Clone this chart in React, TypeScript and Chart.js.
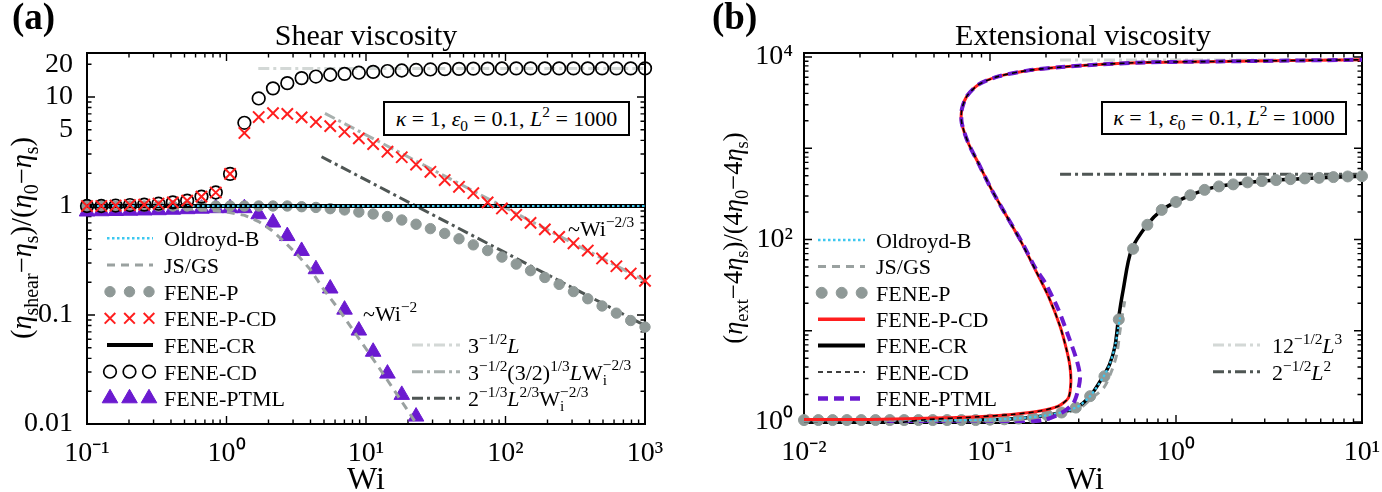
import { useEffect, useRef } from "react"
import Chart from "chart.js/auto"
import { drawPoint } from "chart.js/helpers"

const SERIF = '"Liberation Serif", "Times New Roman", serif'

// ---------- (a) shear viscosity ----------
const shearWi = [
  0.1, 0.1267, 0.1604, 0.2031, 0.2572, 0.3257, 0.4125, 0.5224, 0.6615, 0.8377, 1.0608, 1.3434, 1.7013, 2.1544,
  2.7283, 3.4551, 4.3755, 5.5411, 7.017, 8.8862, 11.253, 14.251, 18.047, 22.855, 28.943, 36.654, 46.416, 58.78,
  74.438, 94.267, 119.38, 151.18, 191.45, 242.45, 307.03, 388.82, 492.39, 623.54, 789.65, 1000,
]
const shearFeneCD = [
  1.0, 1.0, 1.01, 1.02, 1.03, 1.05, 1.08, 1.12, 1.22, 1.33, 1.97, 5.8, 9.7, 12.0, 13.4, 14.9, 15.4, 16.0, 16.3, 16.7,
  17.0, 17.3, 17.5, 17.7, 17.9, 18.0, 18.1, 18.2, 18.2, 18.25, 18.3, 18.3, 18.3, 18.3, 18.3, 18.3, 18.3, 18.3, 18.3, 18.3,
]
const shearFenePCD = [
  1.0, 1.0, 1.01, 1.02, 1.03, 1.05, 1.08, 1.12, 1.22, 1.33, 1.97, 4.68, 6.55, 7.1, 7.0, 6.5, 5.9, 5.4, 4.8, 4.17,
  3.7, 3.15, 2.8, 2.4, 2.06, 1.73, 1.5, 1.31, 1.08, 0.95, 0.83, 0.7, 0.61, 0.52, 0.455, 0.39, 0.33, 0.28, 0.24, 0.206,
]
const shearFeneP = [
  1.0, 1.0, 1.0, 1.0, 1.0, 1.0, 1.0, 1.0, 1.0, 1.0, 1.0, 1.0, 1.0, 1.0, 1.0, 0.985, 0.97, 0.945, 0.92, 0.88,
  0.845, 0.8, 0.744, 0.68, 0.62, 0.56, 0.5, 0.44, 0.39, 0.34, 0.293, 0.255, 0.221, 0.191, 0.164, 0.141, 0.121, 0.104,
  0.089, 0.0775,
]
const shearPtml = [
  0.89, 0.895, 0.9, 0.905, 0.91, 0.915, 0.925, 0.935, 0.945, 0.955, 0.955, 0.955, 0.84, 0.705, 0.53, 0.387, 0.263,
  0.175, 0.112, 0.072, 0.046, 0.029, 0.0185, 0.0117,
]
const shearJsWi = [0.1, 0.3, 0.6, 0.8, 1.0, 1.35, 1.7, 2.1, 2.6, 3.2, 4.0, 5.0, 6.3, 8.0, 10, 13, 17, 21, 25]
const shearJs = [0.975, 0.96, 0.93, 0.905, 0.88, 0.82, 0.72, 0.6, 0.47, 0.36, 0.26, 0.17, 0.115, 0.074, 0.049, 0.03, 0.018, 0.012, 0.0085]
const shearFlatWi = [0.1, 1000]
const shearFlat = [1, 1]
const shearAsymLWi = [1.69, 1000]
const shearAsymL = [18.3, 18.3]
const shearAsymMidWi = [5.08, 1000]
const shearAsymMid = [7.07, 0.206]
const shearAsymDarkWi = [4.8, 1000]
const shearAsymDark = [2.83, 0.08]
const shearXLabelVals = [0.1, 1, 10, 100, 1000]
const shearXLabels = ["10⁻¹", "10⁰", "10¹", "10²", "10³"]
const shearYLabelVals = [0.01, 0.1, 1, 5, 10, 20]
const shearYLabels = ["0.01", "0.1", "1", "5", "10", "20"]

// ---------- (b) extensional viscosity ----------
const extWi = [
  0.01, 0.01194, 0.01425, 0.01701, 0.02031, 0.02424, 0.02894, 0.03455, 0.04125, 0.04924, 0.05878, 0.07017, 0.08377,
  0.1, 0.1194, 0.1425, 0.1701, 0.2031, 0.2424, 0.2894, 0.3455, 0.4125, 0.4924, 0.5878, 0.7017, 0.8377, 1.0, 1.194,
  1.425, 1.701, 2.031, 2.424, 2.894, 3.455, 4.125, 4.924, 5.878, 7.017, 8.377, 10,
]
const extFeneP = [
  1.05, 1.05, 1.05, 1.05, 1.05, 1.05, 1.05, 1.05, 1.05, 1.05, 1.05, 1.05, 1.05, 1.06, 1.07, 1.09, 1.12, 1.19, 1.27,
  1.44, 1.92, 3.17, 13.3, 79, 145, 211, 258, 306, 350, 382, 402, 423, 437, 448, 459, 467, 474, 483, 491, 495,
]
const sCurveWi = [
  0.01, 0.0226, 0.0573, 0.0865, 0.131, 0.182, 0.233, 0.264, 0.272, 0.269, 0.258, 0.238, 0.206, 0.175, 0.148, 0.123,
  0.102, 0.0865, 0.0764, 0.0705, 0.0705, 0.075, 0.0865, 0.111, 0.161, 0.243, 0.367, 0.681, 1.73, 10,
]
const sCurve = [
  1.065, 1.065, 1.11, 1.14, 1.21, 1.31, 1.49, 1.84, 2.69, 4.08, 6.2, 11.2, 23.9, 46.8, 91.8, 179.6, 352, 690, 1143,
  1892, 2650, 3706, 4977, 6138, 7136, 7775, 8245, 8730, 8950, 9340,
]
const extCdWi = [0.01, 0.028, 0.045, ...sCurveWi.slice(3)]
const extCd = [0.96, 0.96, 1.06, ...sCurve.slice(3)]
const extPtmlWi = [0.028, 0.0865, 0.131, 0.198, 0.243, 0.281, 0.298, 0.305, 0.292, 0.264, 0.233, 0.198, 0.176, 0.149, ...sCurveWi.slice(15)]
const extPtml = [0.955, 0.94, 0.96, 1.065, 1.26, 1.62, 2.27, 3.18, 4.84, 8.7, 17.1, 33.5, 48, 92, ...sCurve.slice(15)]
const extCrWi = [0.01, 0.1, 0.2, 0.29, 0.345, 0.406, 0.44, 0.47, 0.49, 0.52, 0.576, 0.7, 0.84, 1.0, 1.2, 1.43, 1.7, 2.03, 2.9, 4.9, 10]
const extCr = [1.05, 1.06, 1.18, 1.44, 1.92, 3.17, 4.3, 6.8, 13.3, 28, 77, 145, 211, 258, 306, 350, 382, 402, 437, 467, 495]
const extOldWi = [0.01, 0.1, 0.2, 0.29, 0.345, 0.406, 0.44, 0.47, 0.49, 0.5]
const extOld = [1.05, 1.06, 1.18, 1.44, 1.92, 3.1, 4.3, 6.8, 11, 14]
const extJsWi = [0.01, 0.1, 0.2, 0.3, 0.35, 0.41, 0.45, 0.48, 0.5, 0.515, 0.53]
const extJs = [1.05, 1.06, 1.15, 1.4, 1.8, 2.4, 3.6, 5.5, 10, 15, 21]
const extAsymWi = [0.238, 10]
const extAsymL3 = [9300, 9300]
const extAsymL2 = [520, 520]
const extXLabelVals = [0.01, 0.1, 1, 10]
const extXLabels = ["10⁻²", "10⁻¹", "10⁰", "10¹"]
const extYLabelVals = [1, 100, 10000]
const extYLabels = ["10⁰", "10²", "10⁴"]

// ---------- styles ----------
const CYAN = "#3cc8f0"
const JSGRAY = "#9aa1a0"
const PGRAY = "#8f9997"
const RED = "#ff1e1e"
const PURPLE = "#6b1ad0"
const LIGHT = "#d3d8d6"
const MID = "#a8b0ae"
const DARK = "#4f5654"
const DASHDOT = [11, 4, 3, 4]

const pts = (xs: number[], ys: number[]) => xs.map((x, i) => ({ x, y: ys[i] }))

function logTicks(min: number, max: number) {
  const out: number[] = []
  for (let d = Math.floor(Math.log10(min)); d <= Math.ceil(Math.log10(max)); d++) {
    for (let k = 1; k <= 9; k++) {
      const v = Number((k * Math.pow(10, d)).toPrecision(6))
      if (v >= min * 0.9999 && v <= max * 1.0001) out.push(v)
    }
  }
  return out
}

function logAxis(min: number, max: number, labelVals: number[], labels: string[], pad: number, fit: (s: any) => void) {
  return {
    type: "logarithmic" as const,
    min,
    max,
    afterBuildTicks: (s: any) => {
      s.ticks = logTicks(min, max).map((v) => ({ value: v }))
    },
    afterFit: fit,
    grid: { display: false, drawTicks: false },
    border: { display: false },
    ticks: {
      autoSkip: false,
      maxRotation: 0,
      minRotation: 0,
      padding: pad,
      color: "#000",
      font: { family: SERIF, size: 28 },
      callback: (v: any) => {
        const i = labelVals.findIndex((l) => Math.abs(l - v) / l < 1e-6)
        return i < 0 ? "" : labels[i]
      },
    },
  }
}

const isDecade = (v: number) => Math.abs(Math.log10(v) - Math.round(Math.log10(v))) < 1e-6

const frameTicks = {
  id: "frameTicks",
  beforeDatasetsDraw(chart: any) {
    const { ctx, chartArea: a, scales } = chart
    ctx.save()
    ctx.strokeStyle = "#000"
    ctx.lineWidth = 1.4
    ctx.beginPath()
    for (const t of scales.x.ticks) {
      const p = scales.x.getPixelForValue(t.value)
      const len = isDecade(t.value) ? 8 : 4.5
      ctx.moveTo(p, a.bottom)
      ctx.lineTo(p, a.bottom - len)
      ctx.moveTo(p, a.top)
      ctx.lineTo(p, a.top + len)
    }
    for (const t of scales.y.ticks) {
      const p = scales.y.getPixelForValue(t.value)
      const len = isDecade(t.value) ? 8 : 4.5
      ctx.moveTo(a.left, p)
      ctx.lineTo(a.left + len, p)
      ctx.moveTo(a.right, p)
      ctx.lineTo(a.right - len, p)
    }
    ctx.stroke()
    ctx.lineWidth = 2
    ctx.strokeRect(a.left, a.top, a.right - a.left, a.bottom - a.top)
    ctx.restore()
  },
}

type Swatch = {
  y: number
  x0: number
  x1: number
  color: string
  width?: number
  dash?: number[]
  marks?: number[]
  style?: string
  radius?: number
  fill?: string
}

function swatchPlugin(offsetX: number, swatches: Swatch[]) {
  return {
    id: "swatches",
    afterDatasetsDraw(chart: any) {
      const ctx = chart.ctx
      ctx.save()
      for (const s of swatches) {
        if (s.marks) {
          for (const mx of s.marks) {
            ctx.strokeStyle = s.color
            ctx.fillStyle = s.fill ?? s.color
            ctx.lineWidth = s.width ?? 1
            drawPoint(ctx, { pointStyle: s.style, radius: s.radius, borderWidth: s.width ?? 1, rotation: 0 } as any, mx - offsetX, s.y)
          }
        } else {
          ctx.beginPath()
          ctx.strokeStyle = s.color
          ctx.lineWidth = s.width ?? 2
          ctx.setLineDash(s.dash ?? [])
          ctx.moveTo(s.x0 - offsetX, s.y)
          ctx.lineTo(s.x1 - offsetX, s.y)
          ctx.stroke()
          ctx.setLineDash([])
        }
      }
      ctx.restore()
    },
  }
}

const rowsA = [238.3, 265, 291.7, 318.3, 345, 371.7, 398.3]
const rowsB = [240, 266.4, 292.8, 319.2, 345.6, 372, 398.4]

function makeShear(): any {
  const line = (d: any, color: string, width: number, dash: number[], order: number) => ({
    data: d, showLine: true, pointRadius: 0, borderColor: color, borderWidth: width, borderDash: dash, fill: false, order,
  })
  const marks = (d: any, style: string, r: number, stroke: string, fill: string, bw: number, order: number) => ({
    data: d, showLine: false, pointStyle: style, pointRadius: r, pointBorderColor: stroke, pointBackgroundColor: fill,
    borderColor: stroke, backgroundColor: fill, pointBorderWidth: bw, clip: false, order,
  })
  const sw: Swatch[] = [
    { y: rowsA[0], x0: 107, x1: 153, color: CYAN, width: 2.4, dash: [2.5, 2.5] },
    { y: rowsA[1], x0: 107, x1: 153, color: JSGRAY, width: 3, dash: [8, 6] },
    { y: rowsA[2], x0: 107, x1: 153, color: PGRAY, marks: [110, 129.5, 149], style: "circle", radius: 5.2, width: 1 },
    { y: rowsA[3], x0: 107, x1: 153, color: RED, marks: [110, 129.5, 149], style: "crossRot", radius: 7.5, width: 2 },
    { y: rowsA[4], x0: 107, x1: 153, color: "#000", width: 4 },
    { y: rowsA[5], x0: 107, x1: 153, color: "#000", marks: [110, 129.5, 149], style: "circle", radius: 6.3, width: 1.7, fill: "rgba(0,0,0,0)" },
    { y: rowsA[6], x0: 107, x1: 153, color: PURPLE, marks: [110, 129.5, 149], style: "triangle", radius: 9, width: 1 },
    { y: rowsA[4], x0: 412, x1: 460, color: LIGHT, width: 3, dash: DASHDOT },
    { y: rowsA[5], x0: 412, x1: 460, color: MID, width: 3, dash: DASHDOT },
    { y: rowsA[6], x0: 412, x1: 460, color: DARK, width: 3, dash: DASHDOT },
  ]
  return {
    type: "scatter",
    data: {
      datasets: [
        marks(pts(shearWi, shearFenePCD), "crossRot", 8, RED, RED, 2, 0),
        marks(pts(shearWi, shearFeneCD), "circle", 6.3, "#000", "rgba(0,0,0,0)", 1.7, 1),
        line(pts(shearFlatWi, shearFlat), CYAN, 2.2, [2.5, 2.5], 2),
        line(pts(shearFlatWi, shearFlat), "#000", 4, [], 3),
        line(pts(shearJsWi, shearJs), JSGRAY, 3, [8, 6], 4),
        marks(pts(shearWi, shearFeneP), "circle", 5.2, PGRAY, PGRAY, 1, 5),
        marks(pts(shearWi.slice(0, shearPtml.length), shearPtml), "triangle", 9, PURPLE, PURPLE, 1, 6),
        line(pts(shearAsymLWi, shearAsymL), LIGHT, 3, DASHDOT, 7),
        line(pts(shearAsymMidWi, shearAsymMid), MID, 3, DASHDOT, 8),
        line(pts(shearAsymDarkWi, shearAsymDark), DARK, 3, DASHDOT, 9),
      ],
    },
    options: {
      animation: false,
      responsive: false,
      events: [],
      layout: { padding: { left: 0, right: 45, top: 53, bottom: 0 } },
      plugins: { legend: { display: false }, tooltip: { enabled: false } },
      scales: {
        x: logAxis(0.1, 1000, shearXLabelVals, shearXLabels, 13, (s: any) => {
          s.height = 68
          s.paddingLeft = 0
          s.paddingRight = 0
        }),
        y: logAxis(0.01, 25.33, shearYLabelVals, shearYLabels, 14, (s: any) => {
          s.width = 87
          s.paddingTop = 0
          s.paddingBottom = 0
        }),
      },
    },
    plugins: [frameTicks, swatchPlugin(0, sw)],
  }
}

function makeExt(): any {
  const line = (d: any, color: string, width: number, dash: number[], order: number, tension = 0) => ({
    data: d, showLine: true, pointRadius: 0, borderColor: color, borderWidth: width, borderDash: dash, fill: false,
    order, tension,
  })
  const sw: Swatch[] = [
    { y: rowsB[0], x0: 818, x1: 865, color: CYAN, width: 2.4, dash: [2.5, 2.5] },
    { y: rowsB[1], x0: 818, x1: 865, color: JSGRAY, width: 3, dash: [8, 6] },
    { y: rowsB[2], x0: 818, x1: 865, color: PGRAY, marks: [821.7, 841.7, 861.7], style: "circle", radius: 5.5, width: 1 },
    { y: rowsB[3], x0: 818, x1: 865, color: RED, width: 3.5 },
    { y: rowsB[4], x0: 818, x1: 865, color: "#000", width: 4 },
    { y: rowsB[5], x0: 818, x1: 865, color: "#000", width: 1.6, dash: [5, 4] },
    { y: rowsB[6], x0: 818, x1: 865, color: PURPLE, width: 4.5, dash: [10, 6] },
    { y: 345, x0: 1213, x1: 1260, color: LIGHT, width: 3, dash: DASHDOT },
    { y: 371.7, x0: 1213, x1: 1260, color: DARK, width: 3, dash: DASHDOT },
  ]
  return {
    type: "scatter",
    data: {
      datasets: [
        line(pts(extCdWi, extCd), "#000", 1.6, [5, 4], 0, 0.25),
        line(pts(extPtmlWi, extPtml), PURPLE, 4, [10, 6], 1, 0.25),
        line(pts(sCurveWi, sCurve), RED, 3, [], 2, 0.25),
        line(pts(extOldWi, extOld), CYAN, 2.2, [2.5, 2.5], 3, 0.3),
        {
          data: pts(extWi, extFeneP), showLine: false, pointStyle: "circle", pointRadius: 5.5,
          pointBackgroundColor: PGRAY, pointBorderColor: PGRAY, backgroundColor: PGRAY, borderColor: PGRAY,
          pointBorderWidth: 1, clip: false, order: 4,
        },
        line(pts(extCrWi, extCr), "#000", 3.5, [], 5, 0.3),
        line(pts(extJsWi, extJs), JSGRAY, 3, [8, 6], 6, 0.3),
        line(pts(extAsymWi, extAsymL3), LIGHT, 3, DASHDOT, 7),
        line(pts(extAsymWi, extAsymL2), DARK, 3, DASHDOT, 8),
      ],
    },
    options: {
      animation: false,
      responsive: false,
      events: [],
      layout: { padding: { left: 0, right: 20, top: 53, bottom: 0 } },
      plugins: { legend: { display: false }, tooltip: { enabled: false } },
      scales: {
        x: logAxis(0.01, 10, extXLabelVals, extXLabels, 13, (s: any) => {
          s.height = 69
          s.paddingLeft = 0
          s.paddingRight = 0
        }),
        y: logAxis(0.975, 11070, extYLabelVals, extYLabels, 11, (s: any) => {
          s.width = 114
          s.paddingTop = 0
          s.paddingBottom = 0
        }),
      },
    },
    plugins: [frameTicks, swatchPlugin(690, sw)],
  }
}

function ChartCanvas({ left, width, make }: { left: number; width: number; make: () => any }) {
  const ref = useRef<HTMLCanvasElement>(null)
  useEffect(() => {
    if (!ref.current) return
    const chart = new Chart(ref.current, make())
    return () => chart.destroy()
  }, [make])
  return (
    <canvas
      ref={ref}
      width={width}
      height={492}
      style={{ position: "absolute", left, top: 0, width, height: 492 }}
    />
  )
}

const sup = (t: string) => <sup style={{ fontSize: "0.7em", verticalAlign: "0.6em", lineHeight: 0 }}>{t}</sup>
const sub = (t: string, ml = 0) => (
  <sub style={{ fontSize: "0.7em", verticalAlign: "-0.35em", lineHeight: 0, marginLeft: ml ? `${ml}em` : undefined }}>{t}</sub>
)
const supAfterSub = (t: string) => (
  <sup style={{ fontSize: "0.7em", verticalAlign: "0.6em", lineHeight: 0, marginLeft: "-0.28em" }}>{t}</sup>
)
const eta = <i>η</i>

function Txt({ x, y, size, align = "left", bold = false, children }: any) {
  const tx = align === "center" ? "-50%" : align === "right" ? "-100%" : "0"
  return (
    <div
      style={{
        position: "absolute", left: x, top: y - 0.8375 * size, fontSize: size, lineHeight: 1,
        fontWeight: bold ? "bold" : "normal", whiteSpace: "nowrap", transform: `translateX(${tx})`,
      }}
    >
      {children}
    </div>
  )
}

function VTxt({ x, y, size, children }: any) {
  return (
    <div
      style={{
        position: "absolute", left: x, top: y, fontSize: size, lineHeight: 1, whiteSpace: "nowrap",
        transform: "translate(-50%, -50%) rotate(-90deg)",
      }}
    >
      {children}
    </div>
  )
}

function ParamBox({ left, top, width, height }: any) {
  return (
    <div
      style={{
        position: "absolute", left, top, width, height, boxSizing: "border-box", border: "2px solid #000",
        background: "#fff", display: "flex", alignItems: "center", justifyContent: "center", fontSize: 22,
        whiteSpace: "nowrap", lineHeight: 1,
      }}
    >
      <span>
        <i>κ</i> = 1, <i>ε</i>{sub("0")} = 0.1, <i>L</i>{sup("2")} = 1000
      </span>
    </div>
  )
}

const legendNames = ["Oldroyd-B", "JS/GS", "FENE-P", "FENE-P-CD", "FENE-CR", "FENE-CD", "FENE-PTML"]

export default function App() {
  return (
    <div
      style={{
        position: "absolute", left: 0, top: 0, width: 1382, height: 492, overflow: "hidden", background: "#fff",
        fontFamily: SERIF, color: "#000",
      }}
    >
      <ChartCanvas left={0} width={690} make={makeShear} />
      <ChartCanvas left={690} width={692} make={makeExt} />

      {/* panel (a) */}
      <Txt x={12} y={29} size={37} bold>(a)</Txt>
      <Txt x={366} y={45} size={30} align="center">Shear viscosity</Txt>
      <Txt x={366} y={489} size={32} align="center">Wi</Txt>
      <VTxt x={22} y={238} size={28.5}>
        ({eta}{sub("shear")}−{eta}{sub("s")})/({eta}{sub("0")}−{eta}{sub("s")})
      </VTxt>
      {legendNames.map((n, k) => (
        <Txt key={n} x={164} y={rowsA[k] + 8.3} size={22}>{n}</Txt>
      ))}
      <Txt x={468} y={rowsA[4] + 8.3} size={22}>3{sup("−1/2")}<i>L</i></Txt>
      <Txt x={468} y={rowsA[5] + 8.3} size={22}>
        3{sup("−1/2")}(3/2){sup("1/3")}<i>L</i>W{sub("i")}{supAfterSub("−2/3")}
      </Txt>
      <Txt x={468} y={rowsA[6] + 8.3} size={22}>
        2{sup("−1/3")}<i>L</i>{sup("2/3")}W{sub("i")}{supAfterSub("−2/3")}
      </Txt>
      <Txt x={363} y={321.7} size={22}>~Wi{sup("−2")}</Txt>
      <Txt x={568} y={236.7} size={22}>~Wi{sup("−2/3")}</Txt>
      <ParamBox left={383} top={101} width={247} height={35} />

      {/* panel (b) */}
      <Txt x={712} y={29} size={37} bold>(b)</Txt>
      <Txt x={1083} y={45} size={30} align="center">Extensional viscosity</Txt>
      <Txt x={1085} y={489} size={32} align="center">Wi</Txt>
      <VTxt x={733} y={238} size={26.5}>
        ({eta}{sub("ext")}−4{eta}{sub("s")})/(4{eta}{sub("0")}−4{eta}{sub("s")})
      </VTxt>
      {legendNames.map((n, k) => (
        <Txt key={n} x={876} y={rowsB[k] + 8.3} size={22}>{n}</Txt>
      ))}
      <Txt x={1272} y={353.3} size={22}>12{sup("−1/2")}<i>L</i>{sup("3")}</Txt>
      <Txt x={1272} y={380} size={22}>2{sup("−1/2")}<i>L</i>{sup("2")}</Txt>
      <ParamBox left={1101} top={101} width={246} height={34} />
    </div>
  )
}
